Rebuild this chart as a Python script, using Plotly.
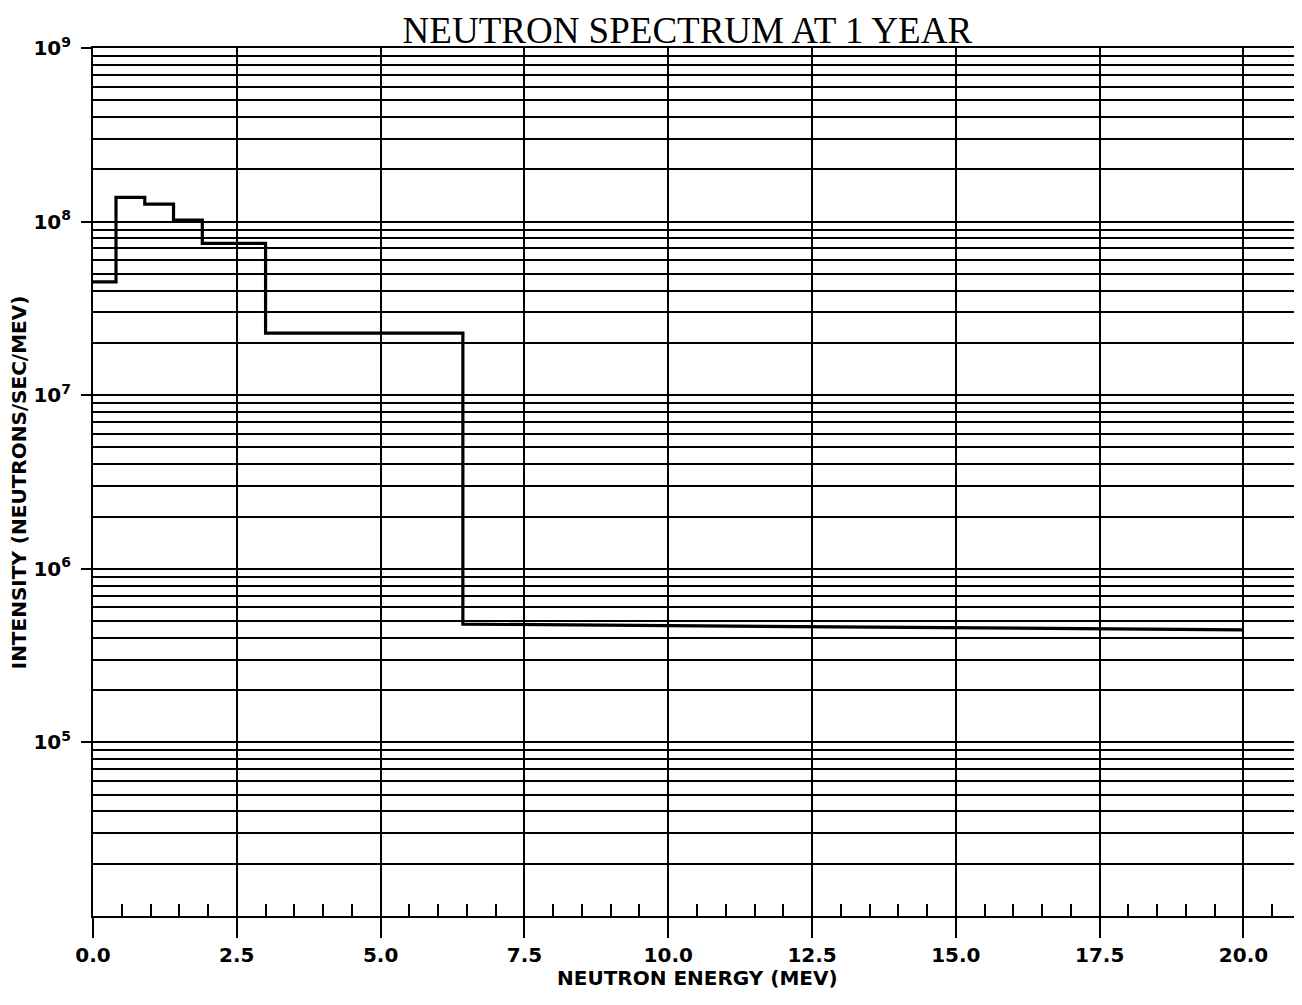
import plotly.graph_objects as go

# Bin edges (MeV) and intensity at the start / end of each bin (neutrons/sec/MeV)
energy_edges = [0.0, 0.4, 0.9, 1.4, 1.9, 3.0, 6.43, 20.0]
intensity_start = [4.5e7, 1.38e8, 1.26e8, 1.02e8, 7.5e7, 2.28e7, 4.8e5]
intensity_end = [4.5e7, 1.38e8, 1.26e8, 1.02e8, 7.5e7, 2.28e7, 4.45e5]

x_tick_vals = [0.0, 2.5, 5.0, 7.5, 10.0, 12.5, 15.0, 17.5, 20.0]
x_tick_text = ["0.0", "2.5", "5.0", "7.5", "10.0", "12.5", "15.0", "17.5", "20.0"]
y_tick_vals = [1e5, 1e6, 1e7, 1e8, 1e9]
y_tick_text = ["10<sup>5</sup>", "10<sup>6</sup>", "10<sup>7</sup>", "10<sup>8</sup>", "10<sup>9</sup>"]
y_minor_vals = [m * 10 ** d for d in range(4, 9) for m in range(2, 10)]
x_minor_vals = [i * 0.5 for i in range(1, 42) if (i * 0.5) % 2.5 != 0]

title_text = "NEUTRON SPECTRUM AT 1 YEAR"
x_title = "NEUTRON ENERGY (MEV)"
y_title = "INTENSITY (NEUTRONS/SEC/MEV)"

# build histogram-style step outline
xs, ys = [], []
for i in range(len(intensity_start)):
    xs += [energy_edges[i], energy_edges[i + 1]]
    ys += [intensity_start[i], intensity_end[i]]

fig = go.Figure()
fig.add_trace(go.Scatter(x=xs, y=ys, mode="lines",
                         line=dict(color="black", width=3.2),
                         showlegend=False, hoverinfo="skip"))

font_sans = "DejaVu Sans, Liberation Sans, sans-serif"
bold_font = dict(family=font_sans, size=20, color="black", weight="bold")

fig.update_layout(
    width=1293, height=998,
    margin=dict(l=85, r=0, t=40, b=90, autoexpand=False),
    paper_bgcolor="white", plot_bgcolor="white",
    title=dict(text=title_text,
               font=dict(family="Liberation Serif, Times New Roman, serif", size=37, color="black"),
               xref="paper", x=0.492, xanchor="center",
               yref="container", y=0.978, yanchor="middle"),
    font=dict(family=font_sans, color="black"),
    annotations=[
        dict(text=x_title, xref="paper", yref="paper", x=0.5, y=-0.071,
             xanchor="center", yanchor="middle", showarrow=False,
             font=dict(family=font_sans, size=20, color="black", weight="bold")),
        dict(text=y_title, xref="paper", yref="paper", x=-0.061, y=0.5,
             xanchor="center", yanchor="middle", textangle=-90, showarrow=False,
             font=dict(family=font_sans, size=20, color="black", weight="bold")),
    ],
)

fig.update_xaxes(
    range=[0, 21], automargin=False,
    tickvals=x_tick_vals, ticktext=x_tick_text,
    ticks="outside", ticklen=20, tickwidth=2, tickcolor="black",
    tickfont=bold_font,
    showgrid=True, gridcolor="black", gridwidth=2,
    showline=True, linecolor="black", linewidth=2, mirror=True,
    zeroline=False,
    minor=dict(tickvals=x_minor_vals, ticks="inside", ticklen=12,
               tickwidth=2, tickcolor="black", showgrid=False),
)

fig.update_yaxes(
    type="log", range=[4, 9], automargin=False,
    tickvals=y_tick_vals, ticktext=y_tick_text,
    ticks="outside", ticklen=10, tickwidth=2, tickcolor="black",
    ticklabelstandoff=6,
    tickfont=bold_font,
    showgrid=True, gridcolor="black", gridwidth=1.6,
    showline=True, linecolor="black", linewidth=2, mirror=True,
    zeroline=False,
    minor=dict(tickvals=y_minor_vals, ticks="", showgrid=True,
               gridcolor="black", gridwidth=1.6),
)

fig.write_html("out.html")
